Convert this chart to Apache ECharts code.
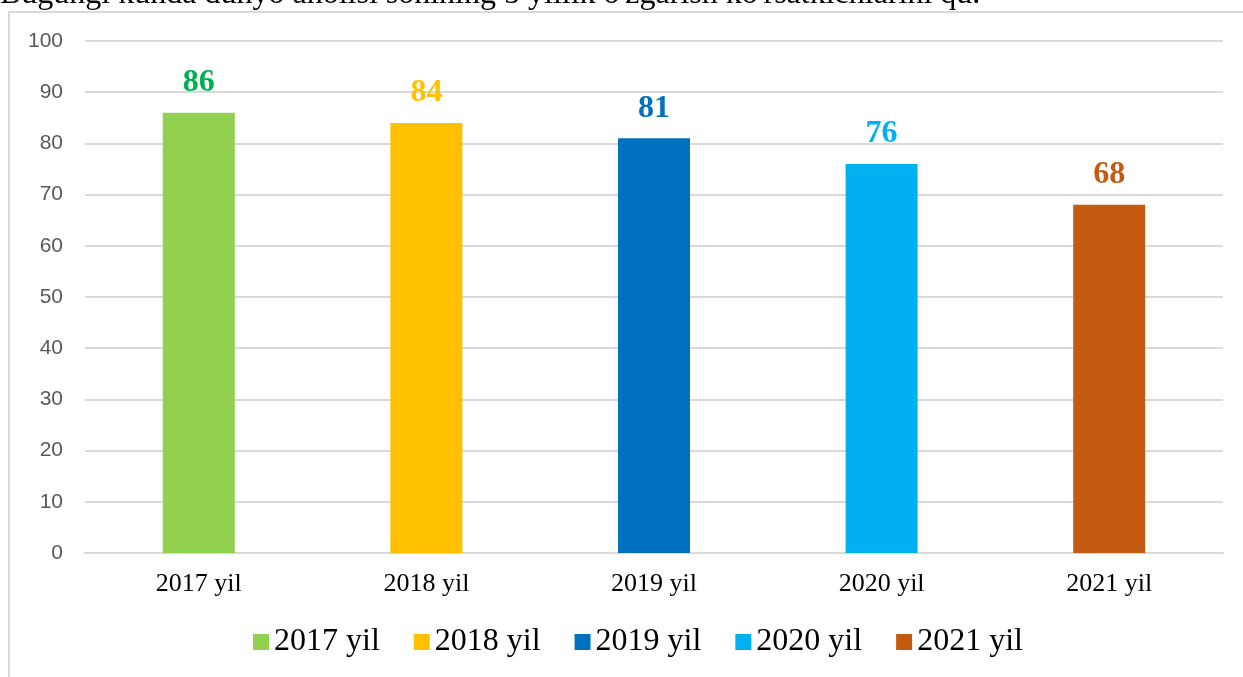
<!DOCTYPE html>
<html>
<head>
<meta charset="utf-8">
<script src="https://cdn.jsdelivr.net/npm/echarts@6/dist/echarts.min.js"></script>
<style>
  html, body { margin: 0; padding: 0; background: #fff; }
  #chart { width: 1243px; height: 677px; }
</style>
</head>
<body>
<div id="chart"></div>
<script>
var years = ['2017 yil', '2018 yil', '2019 yil', '2020 yil', '2021 yil'];
var values = [86, 84, 81, 76, 68];
var barColors = ['#92d050', '#ffc000', '#0070c0', '#00b0f0', '#c55a11'];
var labelColors = ['#00b050', '#ffc000', '#0070c0', '#00b0f0', '#c55a11'];
var yTicks = { min: 0, max: 100, interval: 10 };

var myChart = echarts.init(document.getElementById('chart'));

// one series per year so the legend shows every year
var series = years.map(function (name, i) {
  var data = years.map(function (y, j) { return j === i ? values[i] : '-'; });
  return {
    name: name,
    type: 'bar',
    stack: 'all',
    barWidth: 72,
    data: data,
    itemStyle: { color: barColors[i] },
    label: {
      show: true,
      position: 'top',
      distance: 14,
      color: labelColors[i],
      fontFamily: 'Liberation Serif',
      fontWeight: 'bold',
      fontSize: 32
    }
  };
});

var option = {
  animation: false,
  graphic: [
    {
      type: 'rect',
      shape: { x: 9, y: 12, width: 1260, height: 700 },
      style: { fill: 'none', stroke: '#d9d9d9', lineWidth: 2 },
      z: -1
    },
    {
      // line of text above the chart, cut off by the top edge
      type: 'text',
      left: 0,
      top: -21,
      style: {
        text: "Bugungi kunda dunyo aholisi sonining 5 yillik o'zgarish ko'rsatkichlarini qu.",
        font: '32px "Liberation Serif"',
        fill: '#000'
      }
    }
  ],
  grid: { left: 85, right: 20, top: 41, bottom: 124 },
  legend: {
    top: 621,
    left: 248,
    icon: 'rect',
    itemWidth: 16,
    itemHeight: 16,
    itemGap: 34,
    textStyle: { fontFamily: 'Liberation Serif', fontSize: 32, color: '#000' },
    data: years
  },
  xAxis: {
    type: 'category',
    data: years,
    axisLine: { lineStyle: { color: '#d9d9d9', width: 2 } },
    axisTick: { show: false },
    axisLabel: { fontFamily: 'Liberation Serif', fontSize: 26, color: '#000', margin: 18 }
  },
  yAxis: {
    type: 'value',
    min: yTicks.min,
    max: yTicks.max,
    interval: yTicks.interval,
    axisLine: { show: false },
    axisTick: { show: false },
    splitLine: { lineStyle: { color: '#d9d9d9', width: 2 } },
    axisLabel: { fontFamily: 'Liberation Sans', fontSize: 21, color: '#595959', margin: 22 }
  },
  series: series
};

myChart.setOption(option);
</script>
</body>
</html>
